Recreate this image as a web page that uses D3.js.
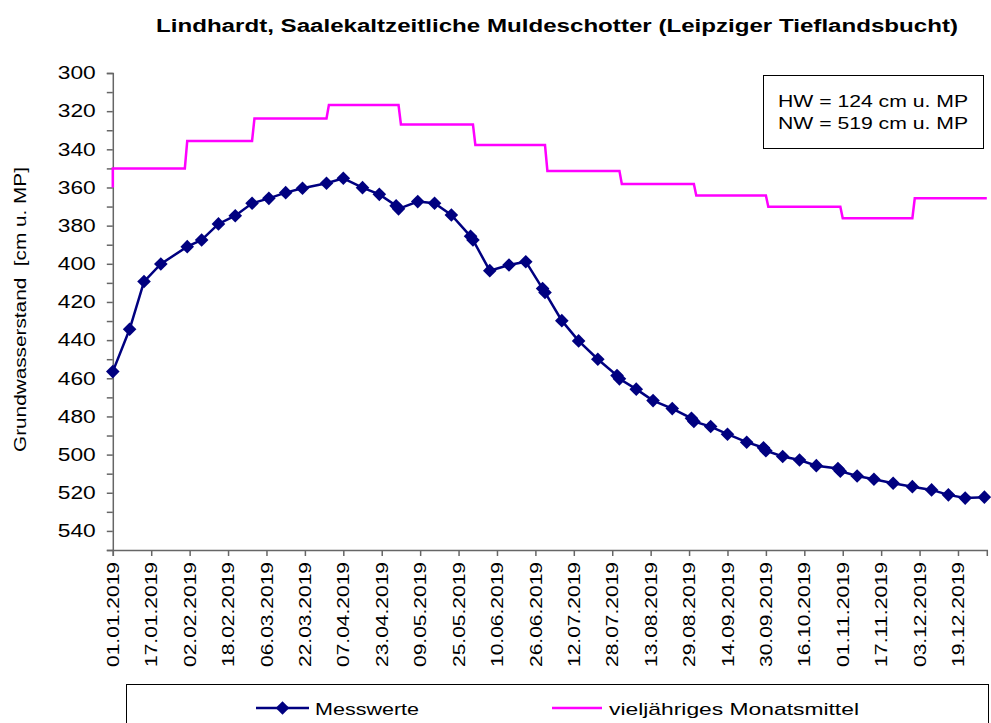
<!DOCTYPE html>
<html>
<head>
<meta charset="utf-8">
<script src="https://cdn.jsdelivr.net/npm/d3@7"></script>
<style>
    body { margin: 0; background: #fff; }
    text { font-family: "Liberation Sans", Arial, sans-serif; }
</style>
</head>
<body>
<div id="chart"></div>
<script>
// Messwerte (Datum, Grundwasserstand in cm u. MP)
const measureDates = [
    "01.01.2019", "08.01.2019", "14.01.2019", "21.01.2019",
    "01.02.2019", "07.02.2019", "14.02.2019", "21.02.2019", "28.02.2019",
    "07.03.2019", "14.03.2019", "21.03.2019", "31.03.2019",
    "07.04.2019", "15.04.2019", "22.04.2019", "29.04.2019", "30.04.2019",
    "08.05.2019", "15.05.2019", "22.05.2019", "30.05.2019", "31.05.2019",
    "07.06.2019", "15.06.2019", "22.06.2019", "29.06.2019", "30.06.2019",
    "07.07.2019", "14.07.2019", "22.07.2019", "30.07.2019", "31.07.2019",
    "07.08.2019", "14.08.2019", "22.08.2019", "30.08.2019", "31.08.2019",
    "07.09.2019", "14.09.2019", "22.09.2019", "29.09.2019", "30.09.2019",
    "07.10.2019", "14.10.2019", "21.10.2019", "30.10.2019", "31.10.2019",
    "07.11.2019", "14.11.2019", "22.11.2019", "30.11.2019",
    "08.12.2019", "15.12.2019", "22.12.2019", "30.12.2019"
];
const measureValues = [
    456.5, 434.3, 409.3, 400.1,
    391.0, 387.5, 379.1, 374.8, 368.3,
    365.7, 362.7, 360.4, 357.8,
    355.2, 360.1, 363.6, 369.6, 371.2,
    367.4, 368.3, 374.4, 385.6, 387.5,
    403.6, 400.6, 398.9, 413.0, 415.0,
    429.8, 440.4, 450.0, 458.6, 460.3,
    465.7, 471.7, 475.9, 481.0, 482.6,
    485.3, 489.3, 493.5, 496.4, 498.0,
    501.0, 502.8, 505.8, 507.3, 508.7,
    511.2, 512.9, 515.0, 516.8,
    518.5, 521.1, 522.8, 522.3
];

// vieljaehriges Monatsmittel, Jan..Dez
const monthlyMean = [350.0, 335.6, 323.8, 316.8, 327.0, 337.8, 351.3, 358.2, 364.2, 370.1, 376.1, 365.7];
const meanStartValue = 360;

// Achsen
const xTickLabels = [
    "01.01.2019", "17.01.2019", "02.02.2019", "18.02.2019", "06.03.2019", "22.03.2019",
    "07.04.2019", "23.04.2019", "09.05.2019", "25.05.2019", "10.06.2019", "26.06.2019",
    "12.07.2019", "28.07.2019", "13.08.2019", "29.08.2019", "14.09.2019", "30.09.2019",
    "16.10.2019", "01.11.2019", "17.11.2019", "03.12.2019", "19.12.2019"
];
const yTicks = [300, 320, 340, 360, 380, 400, 420, 440, 460, 480, 500, 520, 540];
const yMinorTicks = [310, 330, 350, 370, 390, 410, 430, 450, 470, 490, 510, 530, 550];
const yDomain = [300, 550];
const xDomain = ["01.01.2019", "31.12.2019"];

const titleText = "Lindhardt, Saalekaltzeitliche Muldeschotter (Leipziger Tieflandsbucht)";
const yTitleText = "Grundwasserstand  [cm u. MP]";
const infoLines = ["HW = 124 cm u. MP", "NW = 519 cm u. MP"];
const seriesNames = ["Messwerte", "vieljähriges Monatsmittel"];

const parseDate = d3.timeParse("%d.%m.%Y");

class GroundwaterChart {
    constructor(_config) {
        this.config = {
            parentElement: _config.parentElement,
            containerWidth: 991,
            containerHeight: 723,
            plot: {left: 112.8, right: 986.8, top: 73, bottom: 550}
        };
        this.measured = measureDates.map((d, i) => ({date: parseDate(d), value: measureValues[i]}));

        // Stufenlinie: Monatsanfang bis Monatsende
        this.meanSteps = [{date: parseDate(xDomain[0]), value: meanStartValue}];
        monthlyMean.forEach((v, m) => {
            this.meanSteps.push({date: new Date(2019, m, 1), value: v});
            this.meanSteps.push({date: new Date(2019, m + 1, 0), value: v});
        });

        this.initVis();
    }

    initVis() {
        let vis = this;
        let p = vis.config.plot;

        vis.svg = d3.select(vis.config.parentElement)
            .append("svg")
            .attr("width", vis.config.containerWidth)
            .attr("height", vis.config.containerHeight);

        vis.svg.append("rect")
            .attr("width", vis.config.containerWidth)
            .attr("height", vis.config.containerHeight)
            .attr("fill", "#fff");

        vis.xScale = d3.scaleTime()
            .domain(xDomain.map(parseDate))
            .range([p.left, p.right]);

        // inverted: 300 oben
        vis.yScale = d3.scaleLinear()
            .domain(yDomain)
            .range([p.top, p.bottom]);

        vis.renderVis();
    }

    renderVis() {
        let vis = this;
        let p = vis.config.plot;
        const axisColor = "#666";

        // Titel
        vis.svg.append("text")
            .attr("x", 557)
            .attr("y", 32)
            .attr("text-anchor", "middle")
            .attr("font-size", "18px")
            .attr("font-weight", "bold")
            .attr("textLength", 802)
            .attr("lengthAdjust", "spacingAndGlyphs")
            .text(titleText);

        // y-Achse mit Nebenstrichen
        let yMinor = vis.svg.append("g")
            .attr("transform", `translate(${p.left},0)`)
            .call(d3.axisLeft(vis.yScale).tickValues(yMinorTicks).tickSize(6).tickFormat(""));
        yMinor.select(".domain").remove();

        let yAxisG = vis.svg.append("g")
            .attr("transform", `translate(${p.left},0)`)
            .call(d3.axisLeft(vis.yScale).tickValues(yTicks).tickSize(6).tickPadding(11));
        yAxisG.selectAll("text")
            .attr("font-size", "18px")
            .attr("fill", "#000")
            .attr("textLength", 38)
            .attr("lengthAdjust", "spacingAndGlyphs");

        // x-Achse
        let xAxisG = vis.svg.append("g")
            .attr("transform", `translate(0,${p.bottom})`)
            .call(d3.axisBottom(vis.xScale)
                .tickValues(xTickLabels.map(parseDate))
                .tickSize(6)
                .tickFormat(d3.timeFormat("%d.%m.%Y")));
        xAxisG.selectAll("text")
            .attr("transform", "rotate(-90)")
            .attr("text-anchor", "end")
            .attr("x", -12)
            .attr("y", 0)
            .attr("dy", "0.35em")
            .attr("font-size", "16px")
            .attr("fill", "#000")
            .attr("textLength", 105)
            .attr("lengthAdjust", "spacingAndGlyphs");

        vis.svg.selectAll(".domain, .tick line")
            .attr("stroke", axisColor)
            .attr("stroke-width", 1.5);

        // y-Titel (doppeltes Leerzeichen bleibt erhalten)
        vis.svg.append("text")
            .attr("transform", `translate(20,${(p.top + p.bottom) / 2 - 2}) rotate(-90)`)
            .attr("text-anchor", "middle")
            .attr("dy", "0.35em")
            .attr("font-size", "16px")
            .attr("textLength", 285)
            .attr("lengthAdjust", "spacingAndGlyphs")
            .style("white-space", "pre")
            .text(yTitleText);

        // Monatsmittel
        let line = d3.line()
            .x(d => vis.xScale(d.date))
            .y(d => vis.yScale(d.value));

        vis.svg.append("path")
            .datum(vis.meanSteps)
            .attr("d", line)
            .attr("fill", "none")
            .attr("stroke", "#ff00ff")
            .attr("stroke-width", 2.5);

        // Messwerte
        vis.svg.append("path")
            .datum(vis.measured)
            .attr("d", line)
            .attr("fill", "none")
            .attr("stroke", "#000080")
            .attr("stroke-width", 2.5);

        const diamond = "M0,-6.8L6.8,0L0,6.8L-6.8,0Z";
        vis.svg.selectAll(".marker")
            .data(vis.measured)
            .join("path")
            .attr("class", "marker")
            .attr("d", diamond)
            .attr("transform", d => `translate(${vis.xScale(d.date)},${vis.yScale(d.value)})`)
            .attr("fill", "#000080");

        // Infobox HW / NW
        vis.svg.append("rect")
            .attr("x", 763.5).attr("y", 75.5)
            .attr("width", 220).attr("height", 73)
            .attr("fill", "#fff")
            .attr("stroke", "#000")
            .attr("stroke-width", 1);
        vis.svg.selectAll(".info")
            .data(infoLines)
            .join("text")
            .attr("class", "info")
            .attr("x", 873)
            .attr("y", (d, i) => 106.5 + i * 22)
            .attr("text-anchor", "middle")
            .attr("font-size", "16px")
            .attr("textLength", 190)
            .attr("lengthAdjust", "spacingAndGlyphs")
            .text(d => d);

        // Legende
        vis.svg.append("rect")
            .attr("x", 126.5).attr("y", 684.5)
            .attr("width", 862).attr("height", 60)
            .attr("fill", "#fff")
            .attr("stroke", "#000")
            .attr("stroke-width", 1);

        let legendY = 708;
        vis.svg.append("line")
            .attr("x1", 256).attr("x2", 309)
            .attr("y1", legendY).attr("y2", legendY)
            .attr("stroke", "#000080").attr("stroke-width", 2.5);
        vis.svg.append("path")
            .attr("d", diamond)
            .attr("transform", `translate(282.5,${legendY})`)
            .attr("fill", "#000080");
        vis.svg.append("line")
            .attr("x1", 552).attr("x2", 602)
            .attr("y1", legendY).attr("y2", legendY)
            .attr("stroke", "#ff00ff").attr("stroke-width", 2.5);

        vis.svg.selectAll(".legend-label")
            .data(seriesNames)
            .join("text")
            .attr("class", "legend-label")
            .attr("x", (d, i) => i === 0 ? 315 : 609)
            .attr("y", legendY + 6.5)
            .attr("font-size", "17px")
            .attr("textLength", (d, i) => i === 0 ? 104 : 250)
            .attr("lengthAdjust", "spacingAndGlyphs")
            .text(d => d);
    }
}

new GroundwaterChart({parentElement: "#chart"});
</script>
</body>
</html>
